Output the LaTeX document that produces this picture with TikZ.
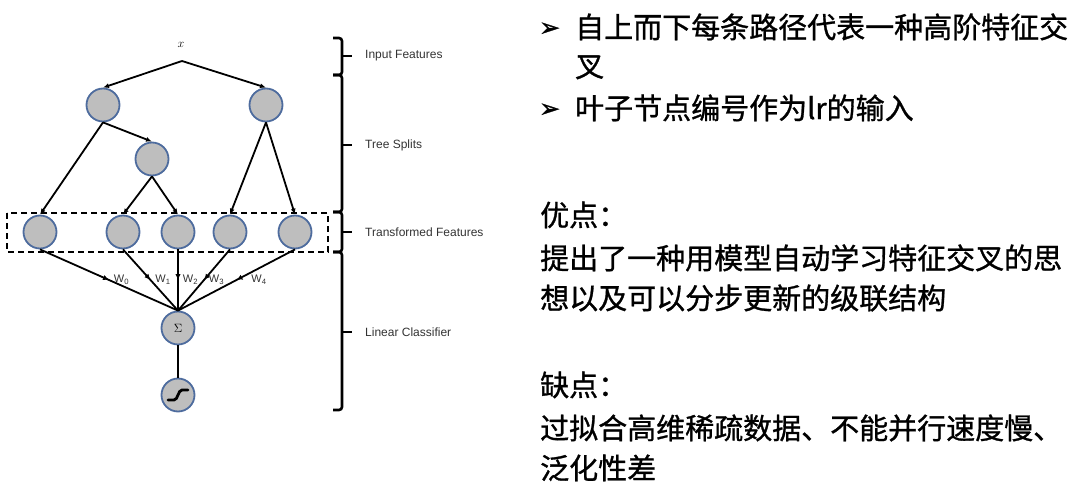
\documentclass[tikz,border=0pt]{standalone}
\usepackage{fontspec}
\setmainfont{Liberation Sans}
\newfontfamily\cjk[FakeBold=1]{Noto Sans CJK SC}
\newfontfamily\symb[FakeBold=1.5]{DejaVu Sans}
\definecolor{ndfill}{RGB}{190,190,190}
\definecolor{ndline}{RGB}{78,108,158}
\usetikzlibrary{arrows.meta,calc,decorations.markings}

\begin{document}
\begin{tikzpicture}[x=1pt,y=-1pt,
  nd/.style={circle,draw=ndline,fill=ndfill,line width=1.8pt,minimum size=33pt,inner sep=0pt},
  edge/.style={line width=1.8pt,-{Latex[length=6pt,width=5pt]}},
  wedge/.style={line width=1.8pt,postaction={decorate},
    decoration={markings,mark=at position 0.5 with {\arrow{Latex[length=6pt,width=5.5pt]}}}},
  wlab/.style={font=\fontsize{11}{13}\selectfont,anchor=west,inner sep=0pt,xshift=4pt,text=black!80},
  brk/.style={line width=2.6pt,rounded corners=3pt},
  lyr/.style={font=\fontsize{12}{14}\selectfont,anchor=west,inner sep=0pt,text=black!80},
  txt/.style={font=\cjk\fontsize{29}{41}\selectfont,anchor=base west,inner sep=0pt},
  bul/.style={font=\symb\fontsize{25}{28}\selectfont,anchor=base west,inner sep=0pt}
]
  \useasboundingbox (0,0) rectangle (1080,487);

  % tree part
  \node[font=\fontsize{13}{15}\selectfont] (x) at (181,45) {$x$};
  \coordinate (apex) at (182,61);
  \node[nd] (t1) at (103,105) {};
  \node[nd] (t2) at (266,105) {};
  \node[nd] (t3) at (152,159) {};
  \node[nd] (l0) at (40,232) {};
  \node[nd] (l1) at (123,232) {};
  \node[nd] (l2) at (178,232) {};
  \node[nd] (l3) at (230,232) {};
  \node[nd] (l4) at (295,232) {};
  \node[nd,font=\fontsize{12}{13}\selectfont] (sum) at (178,328) {$\Sigma$};
  \node[nd] (sig) at (178,395) {};
  \draw[line width=2.8pt,line cap=round] ($(sig)+(-10,5)$) -- ($(sig)+(-4,5)$)
    .. controls ($(sig)+(0,5)$) and ($(sig)+(0,-5)$) .. ($(sig)+(4,-5)$) -- ($(sig)+(10,-5)$);

  \draw[edge] (apex) -- (t1.north);
  \draw[edge] (apex) -- (t2.north);
  \draw[edge] (t1.south) -- (l0.north);
  \draw[edge] (t1.south) -- (t3.north);
  \draw[edge] (t3.south) -- (l1.north);
  \draw[edge] (t3.south) -- (l2.north);
  \draw[edge] (t2.south) -- (l3.north);
  \draw[edge] (t2.south) -- (l4.north);

  \draw[line width=2pt,dash pattern=on 6pt off 4pt] (7,213) rectangle (328,252);

  % weights
  \draw[wedge] (l0.south) -- node[wlab]{W\textsubscript{0}} (sum.north);
  \draw[wedge] (l1.south) -- node[wlab]{W\textsubscript{1}} (sum.north);
  \draw[wedge] (l2.south) -- node[wlab]{W\textsubscript{2}} (sum.north);
  \draw[wedge] (l3.south) -- node[wlab]{W\textsubscript{3}} (sum.north);
  \draw[wedge] (l4.south) -- node[wlab,xshift=10pt]{W\textsubscript{4}} (sum.north);
  \draw[line width=1.8pt] (sum.south) -- (sig.north);

  % layer brackets
  \foreach \ya/\yb/\ym in {38/75/56, 75/212/145, 212/252/232, 252/410/332} {
    \draw[brk] (333,\ya) -- (342,\ya) -- (342,\yb) -- (333,\yb);
    \draw[line width=2.6pt] (342,\ym) -- (352,\ym);
  }
  \node[lyr] (f1) at (365,56) {Input Features};
  \node[lyr] (f2) at (365,145) {Tree Splits};
  \node[lyr] (f3) at (365,232) {Transformed Features};
  \node[lyr] (f4) at (365,332) {Linear Classifier};

  % notes
  \node[bul] (b1) at (539,36) {➢};
  \node[txt] (s1) at (575,38) {自上而下每条路径代表一种高阶特征交};
  \node[txt] (s2) at (575,77) {叉};
  \node[bul] (b2) at (539,117) {➢};
  \node[txt] (s3) at (575,119) {叶子节点编号作为lr的输入};
  \node[txt] (s4) at (540,226) {优点：};
  \node[txt] (s5) at (540,269) {提出了一种用模型自动学习特征交叉的思};
  \node[txt] (s6) at (540,309) {想以及可以分步更新的级联结构};
  \node[txt] (s7) at (540,396) {缺点：};
  \node[txt] (s8) at (540,439) {过拟合高维稀疏数据、不能并行速度慢、};
  \node[txt] (s9) at (540,479) {泛化性差};
\end{tikzpicture}
\end{document}
